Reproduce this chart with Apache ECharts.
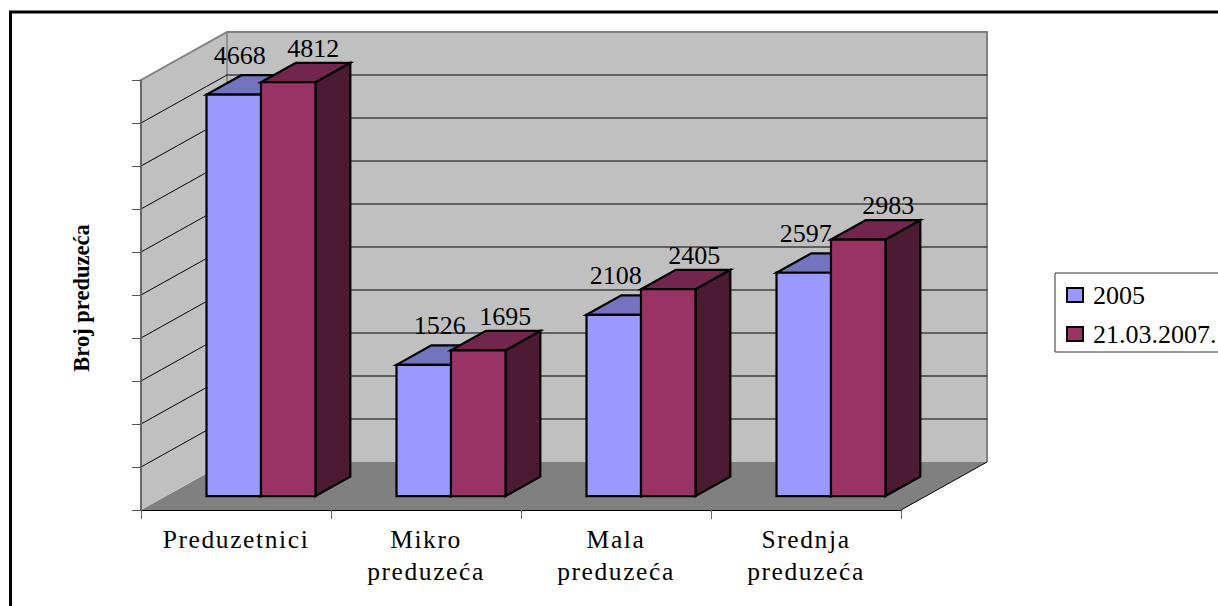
<!DOCTYPE html>
<html>
<head>
<meta charset="utf-8">
<style>
html,body{margin:0;padding:0;background:#fff}
#c{width:1218px;height:606px}
#c text[style*="25.5px"]{letter-spacing:1.6px}
</style>
<script src="https://cdn.jsdelivr.net/npm/echarts@6/dist/echarts.min.js"></script>
</head>
<body>
<div id="c"></div>
<script>
const categories = ['Preduzetnici', 'Mikro\npreduzeća', 'Mala\npreduzeća', 'Srednja\npreduzeća'];
const series2005 = [4668, 1526, 2108, 2597];
const series2007 = [4812, 1695, 2405, 2983];
const seriesNames = ['2005', '21.03.2007.'];
const axisTitle = 'Broj preduzeća';
const gridValues = [500, 1000, 1500, 2000, 2500, 3000, 3500, 4000, 4500];
const labelShift2005 = [6, 16, 2, 2];
const labelShift2007 = [25, 27, 26, 30];

const FONT = '"Liberation Serif","Times New Roman",serif';
const DX = 86, DY = 48;           // oblique depth of the chart box
const AXMIN = 0, AXMAX = 5000;

function poly(points, fill, stroke, lw) {
  return { type: 'polygon', shape: { points }, style: { fill, stroke: stroke || null, lineWidth: lw || 0, lineJoin: 'miter' } };
}
function edges(api) {
  const band = api.size([1, 0])[0];
  return { band, l: api.coord([0, 0])[0] - band / 2, r: api.coord([categories.length - 1, 0])[0] + band / 2 };
}

function renderWalls(params, api) {
  const e = edges(api), y0 = api.coord([0, AXMIN])[1], y1 = api.coord([0, AXMAX])[1];
  const wallEdge = '#808080';
  return { type: 'group', children: [
    poly([[e.l + DX, y0 - DY], [e.r + DX, y0 - DY], [e.r, y0], [e.l, y0]], '#808080'),
    poly([[e.l, y0], [e.l + DX, y0 - DY], [e.l + DX, y1 - DY], [e.l, y1]], '#C0C0C0'),
    poly([[e.l + DX, y0 - DY], [e.r + DX, y0 - DY], [e.r + DX, y1 - DY], [e.l + DX, y1 - DY]], '#C0C0C0'),
    { type: 'polyline', shape: { points: [[e.l, y1], [e.l + DX, y1 - DY], [e.r + DX, y1 - DY], [e.r + DX, y0 - DY]] }, style: { fill: null, stroke: wallEdge, lineWidth: 2 } },
    { type: 'line', shape: { x1: e.l + DX, y1: y1 - DY, x2: e.l + DX, y2: y0 - DY }, style: { stroke: wallEdge, lineWidth: 1.5 } },
    { type: 'line', shape: { x1: e.r, y1: y0, x2: e.r + DX, y2: y0 - DY }, style: { stroke: '#000', lineWidth: 1 } }
  ] };
}

function renderGrid(params, api) {
  const e = edges(api), y = api.coord([0, api.value(1)])[1];
  return { type: 'polyline', shape: { points: [[e.l, y], [e.l + DX, y - DY], [e.r + DX, y - DY]] },
    style: { fill: null, stroke: '#000', lineWidth: 1 } };
}

function makeBars(side, front, top, dark, shifts, lift) {
  return function (params, api) {
    const i = api.value(0), v = api.value(1);
    const c = api.coord([i, v]), b = api.coord([i, 0]);
    const band = api.size([1, 0])[0];
    const w = band * 0.2868;
    const x0 = c[0] + band * 0.1316 + (side === 0 ? -w : 0), x1 = x0 + w;
    const sx = 0.29 * DX, sy = 0.29 * DY, ex = 0.695 * DX, ey = 0.695 * DY;
    const yT = c[1] - sy, yB = b[1] - sy;
    const dx = ex - sx, dy = ey - sy;
    const lw = 2.2, k = '#000';
    return { type: 'group', children: [
      poly([[x1, yB], [x1 + dx, yB - dy], [x1 + dx, yT - dy], [x1, yT]], dark, k, lw),
      poly([[x0, yT], [x0 + dx, yT - dy], [x1 + dx, yT - dy], [x1, yT]], top, k, lw),
      poly([[x0, yB], [x1, yB], [x1, yT], [x0, yT]], front, k, lw),
      { type: 'text', z2: 20, style: { x: (x0 + x1) / 2 + shifts[i], y: yT - lift, text: String(v),
          fill: '#000', font: '26px ' + FONT, align: 'center', verticalAlign: 'middle' } }
    ] };
  };
}

const chart = echarts.init(document.getElementById('c'), null, { width: 1218, height: 606, renderer: 'svg' });
chart.setOption({
  animation: false,
  backgroundColor: '#fff',
  graphic: [{ type: 'polyline', silent: true, shape: { points: [[10.5, 606], [10.5, 12], [1218, 12]] },
    style: { fill: null, stroke: '#000', lineWidth: 3 } }],
  grid: { left: 141, right: 317, top: 80, bottom: 96, containLabel: false },
  legend: {
    data: seriesNames, orient: 'vertical', left: 1055, top: 273,
    padding: [9, 60, 5, 11], itemGap: 13, itemWidth: 16, itemHeight: 14, itemStyle: { borderColor: '#000', borderWidth: 2 },
    backgroundColor: '#fff', borderColor: '#333', borderWidth: 1,
    textStyle: { fontFamily: FONT, fontSize: 26, color: '#000', lineHeight: 22, padding: [0, 0, 0, 5] },
    icon: 'rect', selectedMode: false
  },
  xAxis: {
    type: 'category', data: categories, boundaryGap: true, z: 3,
    axisLine: { lineStyle: { color: '#000', width: 1 } },
    axisTick: { show: true, length: 9, alignWithLabel: false, lineStyle: { color: '#666' } },
    axisLabel: { interval: 0, margin: 13, fontFamily: FONT, fontSize: 25.5, color: '#000', lineHeight: 32 }
  },
  yAxis: {
    type: 'value', min: AXMIN, max: AXMAX, interval: 500, z: 3,
    name: axisTitle, nameLocation: 'middle', nameGap: 48,
    nameTextStyle: { fontFamily: FONT, fontSize: 22.5, fontWeight: 'bold', color: '#000', padding: [0, 6, 0, 0] },
    axisLine: { show: true, lineStyle: { color: '#666', width: 2 } },
    axisTick: { show: true, length: 9, lineStyle: { color: '#555' } },
    axisLabel: { show: false }, splitLine: { show: false }
  },
  series: [
    { type: 'custom', name: 'walls', z: 1, silent: true, data: [[0, 0]], renderItem: renderWalls },
    { type: 'custom', name: 'grid', z: 1, silent: true, data: gridValues.map(v => [0, v]), renderItem: renderGrid },
    { type: 'custom', name: seriesNames[0], z: 2, silent: true,
      itemStyle: { color: '#9999FF' },
      data: series2005.map((v, i) => [i, v]),
      renderItem: makeBars(0, '#9999FF', '#7373BF', '#4D4D80', labelShift2005, 39) },
    { type: 'custom', name: seriesNames[1], z: 3, silent: true,
      itemStyle: { color: '#993366' },
      data: series2007.map((v, i) => [i, v]),
      renderItem: makeBars(1, '#993366', '#73264D', '#4D1A33', labelShift2007, 34) }
  ]
});
</script>
</body>
</html>
